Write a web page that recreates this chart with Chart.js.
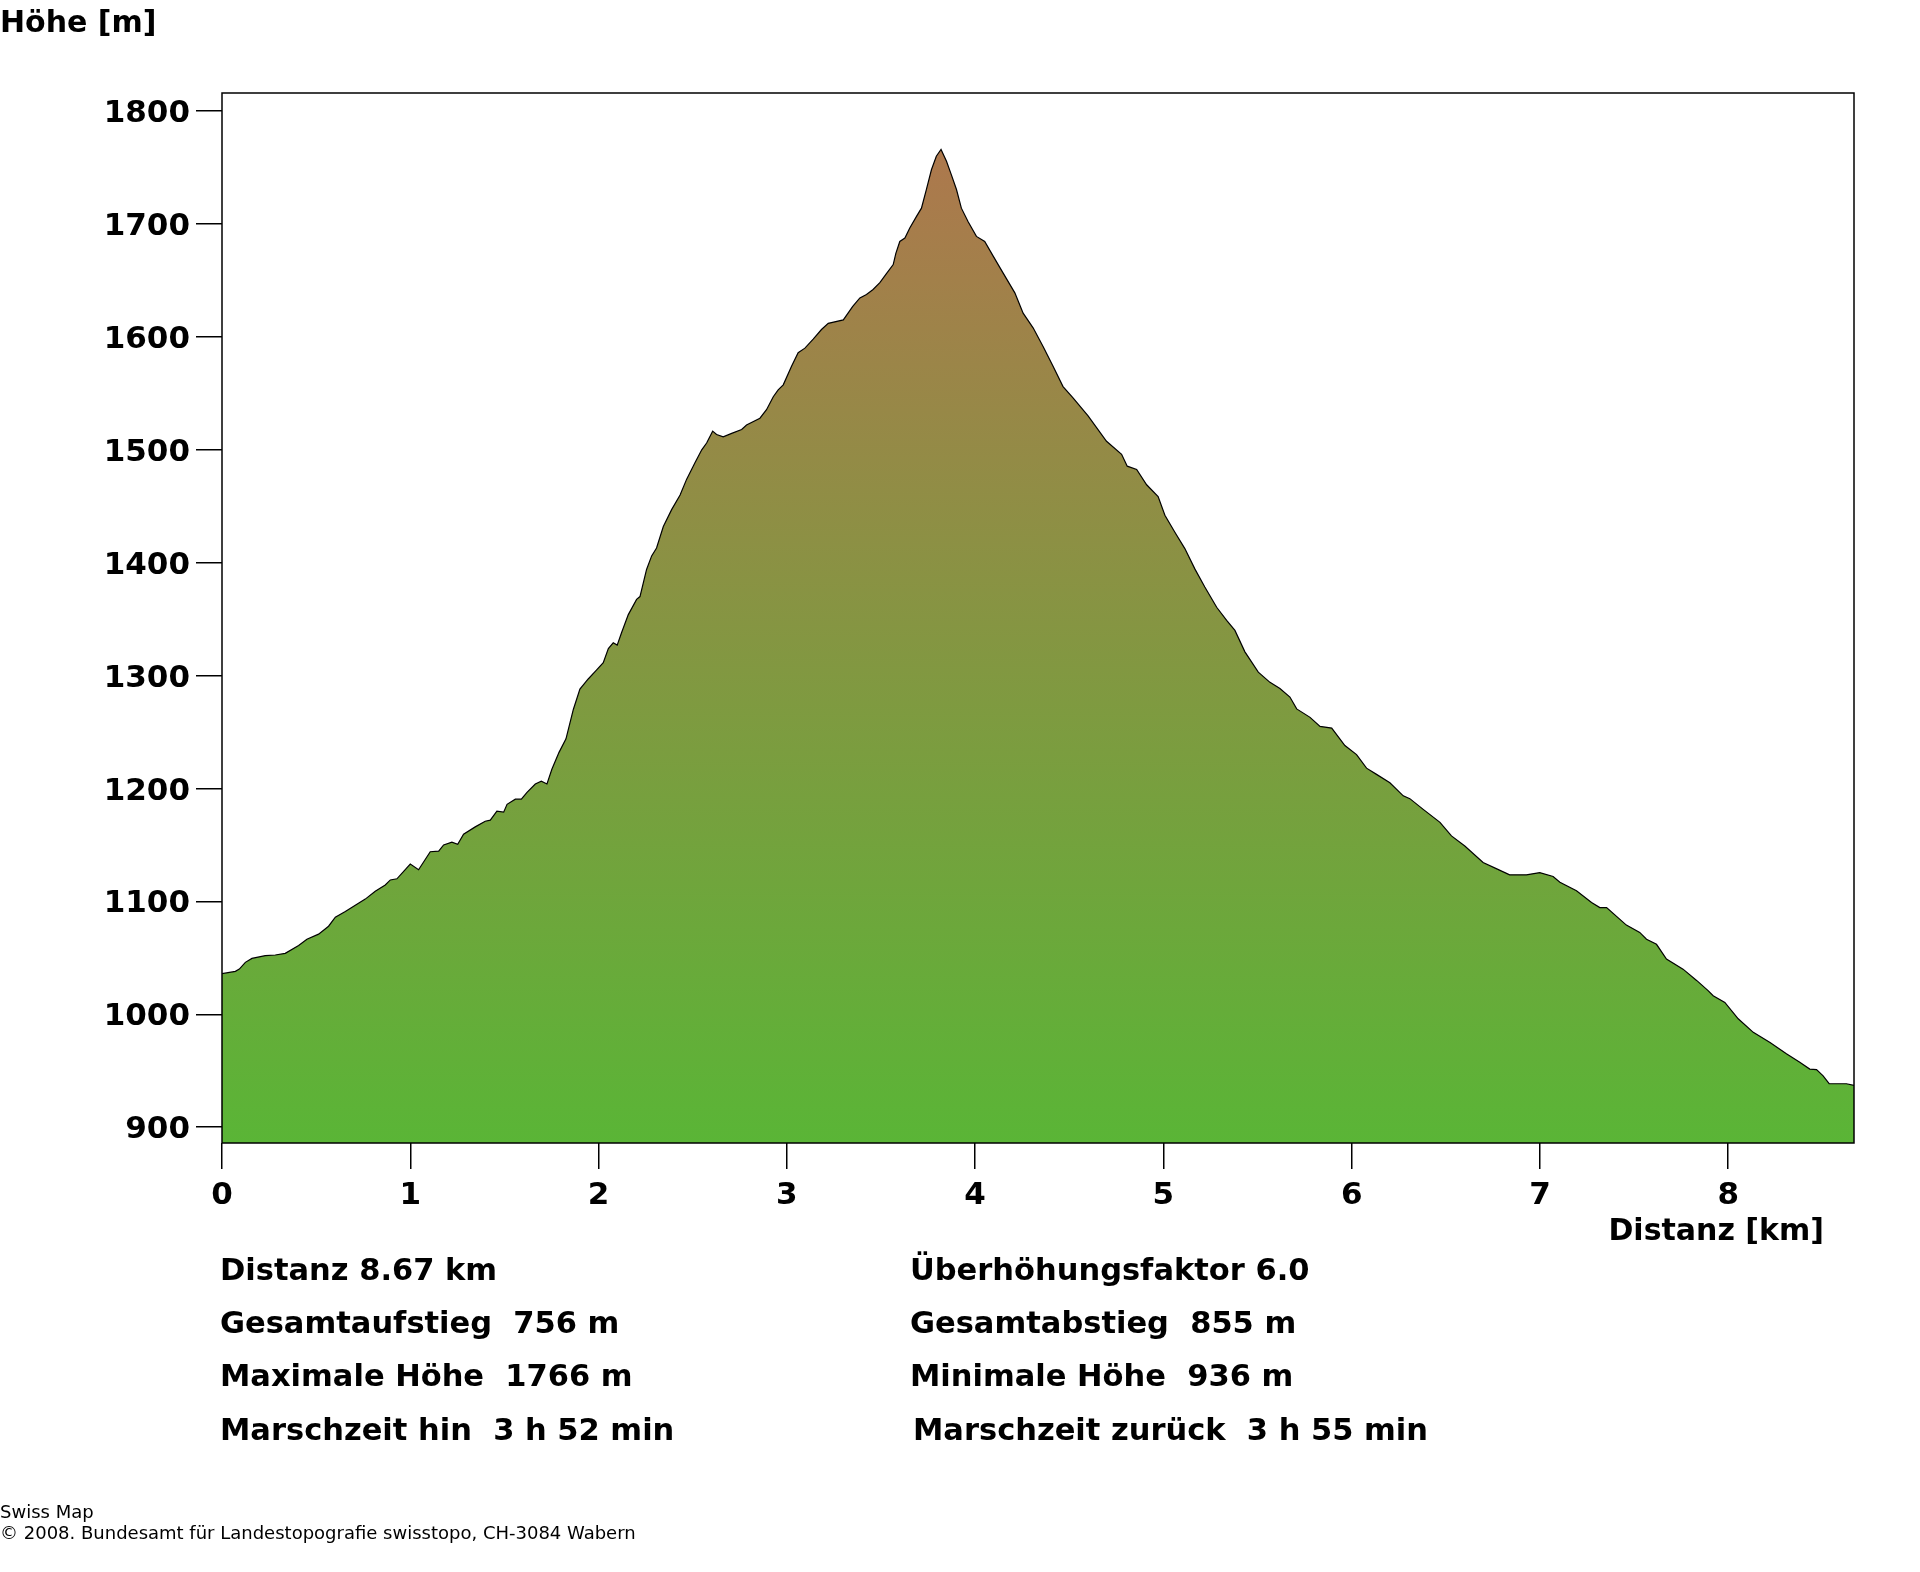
<!DOCTYPE html>
<html>
<head>
<meta charset="utf-8">
<script src="https://cdn.jsdelivr.net/npm/chart.js@4/dist/chart.umd.min.js"></script>
<style>
  body { margin: 0; background: #fff; }
  #wrap { position: relative; width: 1920px; height: 1572px; font-family: "DejaVu Sans", sans-serif; color: #000; }
  #wrap canvas { position: absolute; left: 0; top: 0; }
  .t { position: absolute; white-space: pre; font-weight: bold; font-size: 30.5px; line-height: 36px; }
  .foot { position: absolute; white-space: pre; font-size: 18px; line-height: 21px; left: 0; }
</style>
</head>
<body>
<div id="wrap">
  <canvas id="profileChart" width="1920" height="1572"></canvas>
  <div class="t" style="left:0; top:4px; font-size:30px;">Höhe [m]</div>
  <div class="t" style="right:96px; top:1212px; font-size:30px;">Distanz [km]</div>

  <div class="t" style="left:220px; top:1252px;">Distanz 8.67 km</div>
  <div class="t" style="left:220px; top:1305px;">Gesamtaufstieg  756 m</div>
  <div class="t" style="left:220px; top:1358px;">Maximale Höhe  1766 m</div>
  <div class="t" style="left:220px; top:1412px;">Marschzeit hin  3 h 52 min</div>

  <div class="t" style="left:910px; top:1252px;">Überhöhungsfaktor 6.0</div>
  <div class="t" style="left:910px; top:1305px;">Gesamtabstieg  855 m</div>
  <div class="t" style="left:910px; top:1358px;">Minimale Höhe  936 m</div>
  <div class="t" style="left:913px; top:1412px;">Marschzeit zurück  3 h 55 min</div>

  <div class="foot" style="top:1501px;">Swiss Map</div>
  <div class="foot" style="top:1522px;">© 2008. Bundesamt für Landestopografie swisstopo, CH-3084 Wabern</div>
</div>

<script>
// distance along the route [km]
const distKm = [
  0.000, 0.071, 0.092, 0.124, 0.159, 0.230, 0.283, 0.336, 0.407, 0.451,
  0.513, 0.566, 0.602, 0.655, 0.708, 0.761, 0.814, 0.867, 0.894, 0.929,
  1.000, 1.044, 1.106, 1.151, 1.177, 1.221, 1.252, 1.283, 1.345, 1.398,
  1.425, 1.460, 1.496, 1.514, 1.558, 1.590, 1.620, 1.664, 1.696, 1.726,
  1.752, 1.790, 1.827, 1.866, 1.901, 1.945, 1.990, 2.025, 2.052, 2.078,
  2.099, 2.122, 2.158, 2.202, 2.220, 2.255, 2.282, 2.308, 2.344, 2.388,
  2.433, 2.468, 2.512, 2.548, 2.574, 2.606, 2.627, 2.662, 2.707, 2.760,
  2.786, 2.857, 2.892, 2.928, 2.954, 2.981, 3.025, 3.060, 3.096, 3.140,
  3.184, 3.220, 3.300, 3.350, 3.388, 3.423, 3.458, 3.494, 3.529, 3.565,
  3.579, 3.600, 3.627, 3.653, 3.688, 3.715, 3.741, 3.768, 3.794, 3.819,
  3.848, 3.874, 3.901, 3.927, 3.963, 4.007, 4.051, 4.096, 4.149, 4.211,
  4.255, 4.308, 4.361, 4.414, 4.467, 4.520, 4.600, 4.698, 4.778, 4.808,
  4.858, 4.911, 4.972, 5.008, 5.061, 5.114, 5.167, 5.220, 5.283, 5.336,
  5.380, 5.433, 5.504, 5.566, 5.619, 5.672, 5.708, 5.779, 5.832, 5.894,
  5.964, 6.026, 6.079, 6.132, 6.203, 6.274, 6.309, 6.380, 6.469, 6.530,
  6.601, 6.698, 6.768, 6.839, 6.928, 6.999, 7.070, 7.106, 7.194, 7.274,
  7.318, 7.354, 7.459, 7.530, 7.566, 7.619, 7.672, 7.760, 7.832, 7.893,
  7.920, 7.982, 8.053, 8.133, 8.222, 8.309, 8.380, 8.433, 8.469, 8.504,
  8.536, 8.628, 8.668
];

// elevation [m]
const elevM = [
  1036, 1038, 1040, 1046, 1049.5, 1052, 1052.5, 1054, 1061, 1066.5,
  1071, 1078, 1086, 1091, 1096.5, 1102, 1109, 1114.5, 1119, 1120,
  1133, 1128, 1144, 1144.5, 1150, 1152.5, 1150.5, 1159.5, 1166, 1171,
  1172, 1180, 1179, 1186, 1190.5, 1190.5, 1196.5, 1204, 1206.5, 1204,
  1217, 1232, 1244, 1270, 1288, 1297, 1305, 1311.5, 1324, 1329,
  1327, 1338, 1354, 1367.5, 1370, 1394, 1406, 1413, 1432, 1447,
  1460, 1474, 1488.5, 1500, 1506, 1516.5, 1513.5, 1511.5, 1514.5, 1518,
  1522, 1528, 1535.5, 1547, 1553, 1557.5, 1574, 1586, 1590, 1598,
  1606.5, 1612, 1615, 1627, 1634.5, 1637.5, 1642, 1648, 1656, 1664,
  1674, 1684.5, 1687.5, 1696.5, 1706.5, 1714, 1730.5, 1748, 1760, 1766,
  1755.5, 1743.5, 1730.5, 1714, 1702, 1689, 1684.5, 1671.5, 1656.5, 1639,
  1621, 1608, 1591.5, 1574, 1556, 1546, 1530, 1507.5, 1496, 1485.5,
  1482.5, 1469, 1458.5, 1442, 1427, 1412.5, 1394.5, 1378.5, 1360.5, 1349,
  1340, 1321, 1303, 1294, 1288.5, 1281, 1270.5, 1263, 1255, 1253.5,
  1238, 1230, 1218, 1212.5, 1205, 1193.5, 1191, 1181.5, 1170, 1158,
  1149, 1134.5, 1129, 1123.5, 1123.5, 1125.5, 1122, 1117, 1109.5, 1099,
  1094.5, 1094.5, 1079, 1072.5, 1066.5, 1062, 1049, 1040, 1030, 1021,
  1016.5, 1010.5, 996, 984, 975, 965, 957.5, 951.5, 951, 945.5,
  938.5, 938.5, 937
];

const xTicks = [0, 1, 2, 3, 4, 5, 6, 7, 8];
const yTicks = [900, 1000, 1100, 1200, 1300, 1400, 1500, 1600, 1700, 1800];
const xRange = [0, 8.668];
const yRange = [886, 1816];
const maxElev = 1766;

const profile = distKm.map((d, i) => ({ x: d, y: elevM[i] }));

// black frame round the plot area
const framePlugin = {
  id: "frame",
  afterDraw(chart) {
    const { ctx, chartArea } = chart;
    ctx.save();
    ctx.strokeStyle = "#000";
    ctx.lineWidth = 1.5;
    ctx.strokeRect(chartArea.left, chartArea.top, chartArea.right - chartArea.left, chartArea.bottom - chartArea.top);
    ctx.restore();
  },
};

const tickFont = { family: "DejaVu Sans", weight: "bold", size: 31 };

new Chart(document.getElementById("profileChart"), {
  type: "line",
  data: {
    datasets: [
      {
        data: profile,
        borderColor: "#000",
        borderWidth: 1.2,
        pointRadius: 0,
        tension: 0,
        fill: "start",
        backgroundColor: function (context) {
          const chart = context.chart;
          if (!chart.chartArea) return null;
          const y = chart.scales.y;
          const g = chart.ctx.createLinearGradient(0, y.getPixelForValue(yRange[0]), 0, y.getPixelForValue(maxElev));
          g.addColorStop(0, "rgb(90,181,54)");
          g.addColorStop(1, "rgb(173,120,77)");
          return g;
        },
      },
    ],
  },
  options: {
    responsive: false,
    animation: false,
    layout: { padding: { left: 0, right: 66, top: 93, bottom: 329 } },
    plugins: { legend: { display: false }, tooltip: { enabled: false } },
    scales: {
      x: {
        type: "linear",
        min: xRange[0],
        max: xRange[1],
        afterFit: (scale) => { scale.height = 100; },
        afterBuildTicks: (axis) => { axis.ticks = xTicks.map((v) => ({ value: v })); },
        border: { display: false },
        grid: { drawOnChartArea: false, drawTicks: true, tickLength: 26, color: "#000", lineWidth: 1.5 },
        ticks: { font: tickFont, color: "#000", padding: 8, maxRotation: 0, autoSkip: false,
                 callback: (value) => String(value) },
      },
      y: {
        type: "linear",
        min: yRange[0],
        max: yRange[1],
        afterFit: (scale) => { scale.width = 222; },
        afterBuildTicks: (axis) => { axis.ticks = yTicks.map((v) => ({ value: v })); },
        border: { display: false },
        grid: { drawOnChartArea: false, drawTicks: true, tickLength: 26, color: "#000", lineWidth: 1.5 },
        ticks: { font: tickFont, color: "#000", padding: 6, labelOffset: 3, autoSkip: false,
                 callback: (value) => String(value) },
      },
    },
  },
  plugins: [framePlugin],
});
</script>
</body>
</html>
